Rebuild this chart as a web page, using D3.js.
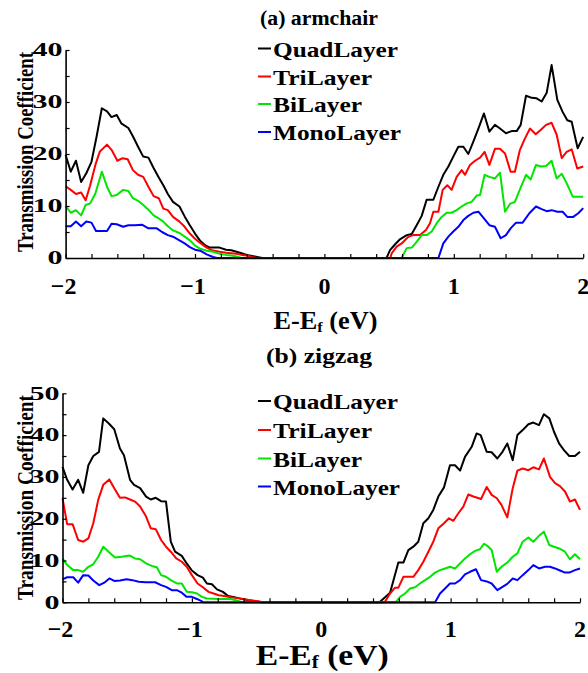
<!DOCTYPE html>
<html>
<head>
<meta charset="utf-8">
<script src="https://cdn.jsdelivr.net/npm/d3@7/dist/d3.min.js"></script>
<style>
  html, body { margin: 0; padding: 0; background: #fff; }
  svg { display: block; }
</style>
</head>
<body>
<script>
// ---------- data (E - Ef in eV, transmission coefficient) ----------
const layerNames = ["QuadLayer", "TriLayer", "BiLayer", "MonoLayer"];
const layerColors = ["#000000", "#ff0000", "#00e600", "#0000ff"];
const xTickLabels = ["\u22122", "\u22121", "0", "1", "2"];
const xTickValues = [-2, -1, 0, 1, 2];
const armchairYTicks = [0, 10, 20, 30, 40];
const zigzagYTicks = [0, 10, 20, 30, 40, 50];

const armchairQuad = [[-2,19.8],[-1.96,16.6],[-1.92,18.7],[-1.88,14.6],[-1.84,16.3],[-1.8,18.5],[-1.76,23.4],[-1.72,28.8],[-1.68,28.2],[-1.645,27.1],[-1.605,27.5],[-1.57,25.9],[-1.515,25.0],[-1.48,23.4],[-1.44,21.4],[-1.4,19.5],[-1.36,19.3],[-1.32,17.3],[-1.28,15.5],[-1.245,14.0],[-1.21,12.3],[-1.17,10.8],[-1.12,9.9],[-1.08,8.0],[-1.04,6.3],[-1.0,4.7],[-0.96,3.3],[-0.92,2.4],[-0.885,2.0],[-0.81,2.0],[-0.76,1.6],[-0.72,1.5],[-0.68,1.2],[-0.64,0.9],[-0.6,0.6],[-0.56,0.4],[-0.52,0.2],[-0.48,0],[0.48,0],[0.507,1.5],[0.545,2.6],[0.584,3.6],[0.636,4.4],[0.675,4.6],[0.713,6.3],[0.752,8.1],[0.79,11.2],[0.842,11.2],[0.881,13.7],[0.919,16.0],[0.958,17.6],[0.996,19.5],[1.035,21.4],[1.074,21.4],[1.112,20.0],[1.151,22.4],[1.19,24.9],[1.233,27.8],[1.275,24.3],[1.318,25.6],[1.357,24.9],[1.403,24.0],[1.447,24.4],[1.486,24.4],[1.517,25.6],[1.558,31.2],[1.602,30.8],[1.64,30.7],[1.679,30.1],[1.718,31.8],[1.756,37.1],[1.8,30.4],[1.841,28.1],[1.877,26.5],[1.911,26.2],[1.957,21.1],[2.0,23.3]];
const armchairTri = [[-2,13.8],[-1.96,13.1],[-1.92,12.3],[-1.88,12.6],[-1.845,11.1],[-1.81,14.0],[-1.77,17.9],[-1.735,20.5],[-1.68,21.8],[-1.645,20.8],[-1.6,18.7],[-1.56,19.2],[-1.52,19.0],[-1.48,16.9],[-1.44,16.0],[-1.4,15.6],[-1.36,13.7],[-1.32,11.9],[-1.28,11.5],[-1.245,9.5],[-1.21,9.2],[-1.17,7.9],[-1.12,7.0],[-1.08,6.0],[-1.04,4.7],[-1.0,3.7],[-0.96,2.9],[-0.91,2.0],[-0.87,1.5],[-0.81,1.2],[-0.76,1.0],[-0.72,0.9],[-0.68,0.8],[-0.64,0.6],[-0.6,0.5],[-0.56,0.2],[-0.52,0],[0.51,0],[0.52,0.9],[0.558,2.2],[0.597,2.8],[0.649,4.1],[0.687,4.4],[0.739,4.4],[0.785,5.4],[0.816,6.7],[0.842,8.9],[0.881,8.9],[0.914,13.1],[0.95,14.0],[0.983,13.1],[1.022,15.6],[1.061,16.9],[1.087,16.0],[1.125,17.9],[1.164,18.7],[1.203,19.3],[1.238,20.4],[1.275,17.9],[1.318,21.0],[1.357,21.0],[1.396,20.1],[1.439,16.6],[1.472,16.6],[1.511,20.8],[1.55,23.0],[1.589,24.9],[1.633,23.8],[1.671,24.6],[1.713,25.6],[1.756,26.0],[1.795,23.7],[1.834,19.2],[1.872,20.4],[1.911,20.9],[1.954,17.2],[2.0,17.6]];
const armchairBi = [[-2,10.0],[-1.96,8.7],[-1.92,9.2],[-1.88,8.2],[-1.845,10.2],[-1.81,10.5],[-1.77,12.4],[-1.72,16.6],[-1.68,13.7],[-1.645,11.9],[-1.605,12.1],[-1.555,13.1],[-1.515,12.9],[-1.48,11.5],[-1.44,11.0],[-1.4,10.2],[-1.36,9.3],[-1.32,8.2],[-1.28,7.6],[-1.245,7.0],[-1.21,6.1],[-1.17,5.3],[-1.12,4.8],[-1.08,4.1],[-1.04,3.4],[-1.0,2.4],[-0.96,1.8],[-0.91,1.4],[-0.86,1.2],[-0.81,0.8],[-0.76,0.6],[-0.72,0.5],[-0.68,0.3],[-0.64,0],[0.597,0],[0.636,1.9],[0.675,2.0],[0.713,3.1],[0.752,4.4],[0.79,4.4],[0.829,5.1],[0.868,6.7],[0.906,7.9],[0.945,8.7],[0.983,8.7],[1.022,9.2],[1.061,9.9],[1.1,10.5],[1.138,10.8],[1.177,12.0],[1.203,12.1],[1.238,16.0],[1.275,15.6],[1.318,15.3],[1.357,16.4],[1.396,8.9],[1.434,10.4],[1.472,10.8],[1.511,13.2],[1.558,16.0],[1.594,15.1],[1.635,17.9],[1.674,17.6],[1.713,17.7],[1.756,18.7],[1.795,15.3],[1.834,16.2],[1.872,14.4],[1.919,11.8],[2.0,11.8]];
const armchairMono = [[-2,6.1],[-1.96,6.1],[-1.92,7.0],[-1.88,6.1],[-1.84,7.0],[-1.8,6.8],[-1.765,5.2],[-1.68,5.2],[-1.645,6.6],[-1.605,6.5],[-1.555,6.0],[-1.515,6.3],[-1.465,6.3],[-1.41,6.4],[-1.36,5.7],[-1.295,5.7],[-1.255,5.0],[-1.21,4.4],[-1.17,4.1],[-1.12,3.4],[-1.08,2.8],[-1.04,2.1],[-1.0,1.6],[-0.96,1.4],[-0.91,0.7],[-0.86,0.2],[-0.83,0],[0.881,0],[0.919,2.8],[0.958,4.1],[0.996,5.1],[1.035,6.0],[1.074,7.3],[1.112,8.1],[1.151,8.7],[1.19,8.9],[1.233,7.6],[1.275,6.3],[1.318,6.0],[1.362,3.8],[1.403,4.4],[1.439,5.7],[1.481,6.8],[1.532,6.8],[1.584,8.6],[1.635,9.9],[1.679,9.4],[1.718,9.0],[1.756,9.2],[1.8,8.9],[1.841,8.9],[1.877,7.9],[1.923,7.9],[1.962,8.6],[2.0,9.6]];

const zigzagQuad = [[-2,32.4],[-1.964,29.3],[-1.922,27.0],[-1.879,29.3],[-1.84,26.2],[-1.8,32.8],[-1.762,35.0],[-1.718,36.0],[-1.685,44.0],[-1.64,42.7],[-1.6,41.4],[-1.556,36.8],[-1.525,35.2],[-1.478,29.3],[-1.447,28.1],[-1.4,27.3],[-1.354,25.3],[-1.318,24.6],[-1.279,25.0],[-1.238,24.2],[-1.2,24.1],[-1.163,14.5],[-1.13,12.1],[-1.078,11.1],[-1.04,9.3],[-1.0,7.6],[-0.956,6.5],[-0.915,5.9],[-0.884,4.5],[-0.845,4.3],[-0.806,3.1],[-0.76,2.5],[-0.72,1.5],[-0.68,1.3],[-0.64,1.0],[-0.6,0.7],[-0.56,0.5],[-0.52,0.3],[-0.46,0],[0.45,0],[0.532,2.3],[0.596,9.5],[0.635,9.5],[0.673,12.5],[0.712,13.3],[0.75,14.5],[0.789,18.9],[0.828,20.1],[0.866,22.1],[0.905,25.3],[0.949,27.5],[0.995,32.8],[1.034,32.8],[1.073,31.5],[1.111,34.8],[1.163,37.2],[1.201,40.4],[1.232,40.0],[1.279,36.0],[1.317,35.9],[1.361,34.4],[1.401,36.0],[1.438,38.0],[1.48,34.0],[1.516,40.0],[1.557,41.2],[1.601,42.6],[1.639,43.0],[1.683,42.4],[1.721,45.0],[1.763,44.0],[1.799,40.8],[1.838,38.0],[1.876,36.4],[1.917,35.0],[1.961,35.0],[2.0,36.0]];
const zigzagTri = [[-2,24.9],[-1.964,18.7],[-1.922,18.7],[-1.879,14.9],[-1.84,14.5],[-1.8,15.3],[-1.762,18.9],[-1.724,24.5],[-1.685,28.1],[-1.638,29.4],[-1.6,27.3],[-1.556,25.0],[-1.517,25.1],[-1.478,24.6],[-1.44,24.1],[-1.4,22.9],[-1.354,20.5],[-1.318,17.7],[-1.279,17.5],[-1.238,14.9],[-1.2,13.3],[-1.163,12.1],[-1.121,10.5],[-1.078,9.7],[-1.04,8.5],[-1.0,6.5],[-0.956,4.5],[-0.915,3.6],[-0.871,2.5],[-0.832,2.1],[-0.793,1.7],[-0.75,1.5],[-0.7,1.2],[-0.65,1.0],[-0.6,0.8],[-0.55,0.5],[-0.5,0.3],[-0.45,0],[0.49,0],[0.532,2.1],[0.57,3.5],[0.596,3.5],[0.635,6.1],[0.673,6.1],[0.712,6.1],[0.75,7.7],[0.789,9.7],[0.828,12.1],[0.866,14.5],[0.905,17.7],[0.949,18.9],[0.987,20.1],[1.021,19.5],[1.06,21.3],[1.098,22.9],[1.137,25.8],[1.176,25.3],[1.235,24.7],[1.279,27.6],[1.317,25.7],[1.357,24.9],[1.393,23.3],[1.438,20.3],[1.48,27.3],[1.516,31.5],[1.557,32.0],[1.601,31.6],[1.639,32.3],[1.683,31.8],[1.721,34.4],[1.768,30.0],[1.807,28.5],[1.845,27.8],[1.884,26.5],[1.922,24.1],[1.961,24.6],[2.0,22.1]];
const zigzagBi = [[-2,10.5],[-1.964,8.9],[-1.917,7.7],[-1.879,7.7],[-1.84,7.3],[-1.8,8.5],[-1.762,9.1],[-1.724,10.9],[-1.685,13.3],[-1.638,11.9],[-1.594,10.7],[-1.543,10.9],[-1.483,11.2],[-1.44,10.5],[-1.4,10.3],[-1.354,9.3],[-1.31,8.7],[-1.271,8.4],[-1.238,6.5],[-1.2,6.1],[-1.163,5.3],[-1.116,4.5],[-1.078,4.5],[-1.04,2.5],[-1.0,2.4],[-0.961,2.1],[-0.922,1.3],[-0.884,0.9],[-0.78,0.8],[-0.7,0.8],[-0.66,0.5],[-0.63,0.2],[-0.6,0],[0.575,0],[0.609,1.3],[0.648,2.1],[0.686,3.3],[0.725,3.6],[0.763,4.5],[0.802,5.3],[0.841,6.1],[0.88,7.1],[0.918,7.7],[0.957,8.1],[0.995,8.5],[1.034,8.1],[1.073,9.3],[1.111,10.5],[1.15,11.5],[1.189,12.3],[1.227,12.7],[1.258,14.0],[1.292,13.3],[1.317,12.5],[1.357,7.3],[1.393,8.5],[1.438,9.5],[1.48,10.9],[1.516,11.7],[1.557,14.5],[1.601,15.5],[1.639,14.5],[1.683,15.9],[1.721,16.9],[1.763,13.7],[1.799,13.3],[1.845,12.8],[1.884,12.1],[1.922,10.3],[1.961,11.5],[2.0,10.3]];
const zigzagMono = [[-2,5.5],[-1.964,6.0],[-1.917,6.0],[-1.879,4.7],[-1.84,6.5],[-1.8,6.4],[-1.762,5.2],[-1.716,4.1],[-1.677,4.7],[-1.638,5.7],[-1.6,5.1],[-1.556,5.2],[-1.504,5.5],[-1.46,5.3],[-1.41,4.9],[-1.36,4.8],[-1.284,4.8],[-1.238,4.1],[-1.2,3.7],[-1.155,2.9],[-1.116,2.9],[-1.078,2.3],[-1.04,1.3],[-1.0,1.3],[-0.961,0.8],[-0.922,0.2],[-0.91,0],[0.88,0],[0.918,2.1],[0.957,3.3],[0.995,4.5],[1.034,4.5],[1.073,5.3],[1.111,6.7],[1.15,7.3],[1.196,7.9],[1.235,5.3],[1.279,5.0],[1.317,4.5],[1.361,2.9],[1.401,3.7],[1.438,4.4],[1.48,5.7],[1.516,5.3],[1.557,6.5],[1.601,7.7],[1.639,8.9],[1.683,8.1],[1.73,8.5],[1.768,8.5],[1.807,8.1],[1.845,7.6],[1.884,7.1],[1.917,7.1],[1.961,7.7],[2.0,8.1]];

// ---------- layout ----------
const W = 588, H = 673;
const FONT = '"Liberation Serif"';
const panels = [
  { title: "(a) armchair", titleY: 25, titleLen: 118, x0: 65.6, x1: 583.2, yBot: 258, yTop: 50, ymax: 40,
    yTicks: armchairYTicks, series: [armchairQuad, armchairTri, armchairBi, armchairMono],
    legendBase: [56.5, 84.5, 112, 140], legendLen: [125, 99, 89, 128],
    xLabelY: 294, xTitleY: 329, xTitleSize: 25, xTitleLen: 104,
    yTitleY: 152, yTitleLen: 200 },
  { title: "(b) zigzag", titleY: 363, titleLen: 106, x0: 62.5, x1: 580, yBot: 602.3, yTop: 393.3, ymax: 50,
    yTicks: zigzagYTicks, series: [zigzagQuad, zigzagTri, zigzagBi, zigzagMono],
    legendBase: [409, 438, 466.5, 494.5], legendLen: [125, 99, 89, 127],
    xLabelY: 637, xTitleY: 665, xTitleSize: 29, xTitleLen: 133,
    yTitleY: 497.5, yTitleLen: 205 }
];

const svg = d3.select("body").append("svg").attr("width", W).attr("height", H);

function txt(sel) {
  return sel.append("text").style("font-family", FONT).style("font-weight", "bold").attr("fill", "#000");
}

panels.forEach(p => {
  const x = d3.scaleLinear().domain([-2, 2]).range([p.x0, p.x1]);
  const y = d3.scaleLinear().domain([0, p.ymax]).range([p.yBot, p.yTop]);
  const g = svg.append("g");

  // curves
  const line = d3.line().x(d => x(d[0])).y(d => y(d[1]));
  p.series.forEach((s, i) => {
    g.append("path").datum(s).attr("d", line)
      .attr("fill", "none").attr("stroke", layerColors[i])
      .attr("stroke-width", 2).attr("stroke-linejoin", "round");
  });

  // x axis (ticks every 0.2, pointing inward)
  const xAxis = d3.axisBottom(x).tickValues(d3.range(-2, 2.0001, 0.2))
    .tickSizeInner(-4).tickSizeOuter(0).tickFormat("");
  const gx = g.append("g").attr("transform", `translate(0,${p.yBot})`).call(xAxis);
  gx.select(".domain").attr("stroke-width", 1.6);
  gx.selectAll(".tick line").attr("stroke-width", 1.2);

  // y axis (ticks every 5, pointing inward)
  const yAxis = d3.axisLeft(y).tickValues(d3.range(0, p.ymax + 0.001, 5))
    .tickSizeInner(-4).tickSizeOuter(0).tickFormat("");
  const gy = g.append("g").attr("transform", `translate(${p.x0},0)`).call(yAxis);
  gy.select(".domain").attr("stroke-width", 1.6);
  gy.selectAll(".tick line").attr("stroke-width", 1.2);

  // x tick labels
  xTickValues.forEach((v, i) => {
    txt(g).attr("x", x(v) - (v < 0 ? 2 : 0)).attr("y", p.xLabelY)
      .attr("text-anchor", "middle").attr("font-size", 24).text(xTickLabels[i]);
  });

  // y tick labels (horizontally widened)
  p.yTicks.forEach(v => {
    const s = String(v);
    txt(g).attr("x", p.x0 - 3 - s.length * 15).attr("y", y(v) + 6.3)
      .attr("font-size", 18.5)
      .attr("textLength", s.length * 15).attr("lengthAdjust", "spacingAndGlyphs")
      .text(s);
  });

  // y title
  txt(g).attr("transform", `translate(33,${p.yTitleY}) scale(1.3,1) rotate(-90)`)
    .attr("text-anchor", "middle").attr("font-size", 18)
    .attr("textLength", p.yTitleLen).attr("lengthAdjust", "spacingAndGlyphs")
    .text("Transmission Coefficient");

  // x title
  const cx = (p.x0 + p.x1) / 2 + 1;
  const xt = txt(g).attr("x", cx - p.xTitleLen / 2).attr("y", p.xTitleY)
    .attr("font-size", p.xTitleSize)
    .attr("textLength", p.xTitleLen).attr("lengthAdjust", "spacingAndGlyphs");
  xt.append("tspan").text("E-E");
  xt.append("tspan").attr("font-size", p.xTitleSize * 0.62).attr("dy", p.xTitleSize * 0.12).text("f");
  xt.append("tspan").attr("dy", -p.xTitleSize * 0.12).text(" (eV)");

  // title
  txt(g).attr("x", 319 - p.titleLen / 2).attr("y", p.titleY)
    .attr("font-size", 20)
    .attr("textLength", p.titleLen).attr("lengthAdjust", "spacingAndGlyphs")
    .text(p.title);

  // legend
  layerNames.forEach((name, i) => {
    const by = p.legendBase[i];
    g.append("line").attr("x1", 258).attr("x2", 271).attr("y1", by - 8).attr("y2", by - 8)
      .attr("stroke", layerColors[i]).attr("stroke-width", 2);
    txt(g).attr("x", 273).attr("y", by)
      .attr("font-size", 21)
      .attr("textLength", p.legendLen[i]).attr("lengthAdjust", "spacingAndGlyphs")
      .text(name);
  });
});
</script>
</body>
</html>
